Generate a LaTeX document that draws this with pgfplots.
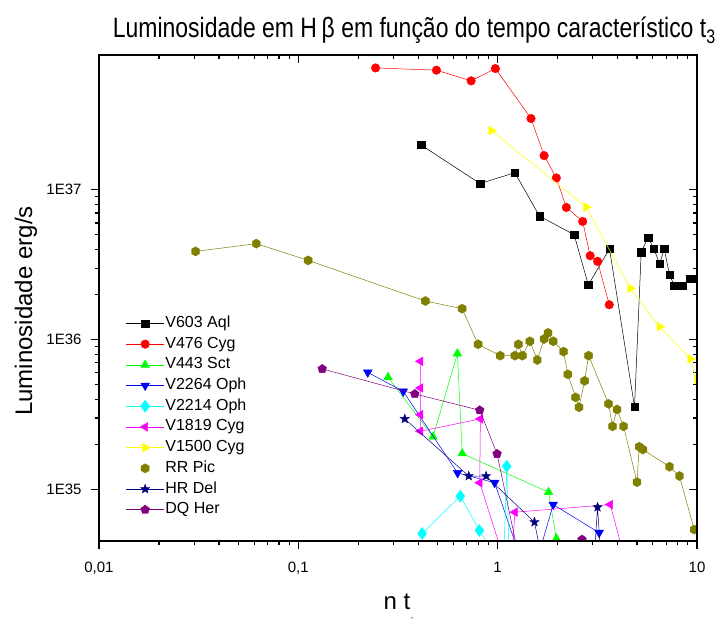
\documentclass[border=0pt]{standalone}
\usepackage{pgfplots}
\pgfplotsset{compat=1.18}
\usepackage{pgfplotstable}
\usepackage{fontspec}
\setmainfont{Liberation Sans}
\newfontfamily\narrowfont[FakeStretch=0.82]{Liberation Sans}
\usetikzlibrary{plotmarks}

% filled hexagon and filled five-pointed star marks
\pgfdeclareplotmark{hexagon*}{%
  \pgfpathmoveto{\pgfpointpolar{90}{\pgfplotmarksize}}%
  \pgfpathlineto{\pgfpointpolar{150}{\pgfplotmarksize}}%
  \pgfpathlineto{\pgfpointpolar{210}{\pgfplotmarksize}}%
  \pgfpathlineto{\pgfpointpolar{270}{\pgfplotmarksize}}%
  \pgfpathlineto{\pgfpointpolar{330}{\pgfplotmarksize}}%
  \pgfpathlineto{\pgfpointpolar{30}{\pgfplotmarksize}}%
  \pgfpathclose\pgfusepathqfillstroke}
\pgfdeclareplotmark{fstar}{%
  \pgfpathmoveto{\pgfpointpolar{90}{\pgfplotmarksize}}%
  \pgfpathlineto{\pgfpointpolar{126}{0.42\pgfplotmarksize}}%
  \pgfpathlineto{\pgfpointpolar{162}{\pgfplotmarksize}}%
  \pgfpathlineto{\pgfpointpolar{198}{0.42\pgfplotmarksize}}%
  \pgfpathlineto{\pgfpointpolar{234}{\pgfplotmarksize}}%
  \pgfpathlineto{\pgfpointpolar{270}{0.42\pgfplotmarksize}}%
  \pgfpathlineto{\pgfpointpolar{306}{\pgfplotmarksize}}%
  \pgfpathlineto{\pgfpointpolar{342}{0.42\pgfplotmarksize}}%
  \pgfpathlineto{\pgfpointpolar{18}{\pgfplotmarksize}}%
  \pgfpathlineto{\pgfpointpolar{54}{0.42\pgfplotmarksize}}%
  \pgfpathclose\pgfusepathqfillstroke}

\pgfplotsset{
  lumlinekey/.style={legend image code/.code={\draw[mark repeat=2,mark phase=2,##1]
     plot coordinates {(0bp,0bp)(19bp,0bp)(38bp,0bp)};}},
  lummarkkey/.style={legend image code/.code={\draw[##1]
     plot coordinates {(19bp,0bp)};}},
}

\definecolor{cBlack}{RGB}{0,0,0}
\definecolor{cRed}{RGB}{255,0,0}
\definecolor{cGreen}{RGB}{0,255,0}
\definecolor{cBlue}{RGB}{0,0,255}
\definecolor{cCyan}{RGB}{0,255,255}
\definecolor{cMagenta}{RGB}{255,0,255}
\definecolor{cYellow}{RGB}{255,255,0}
\definecolor{cOlive}{RGB}{128,128,0}
\definecolor{cNavy}{RGB}{0,0,128}
\definecolor{cPurple}{RGB}{128,0,128}

% n t  versus  L(H beta) [erg/s]
\pgfplotstableread{
x y
0.413 1.99e37
0.816 1.10e37
1.22 1.30e37
1.62 6.68e36
2.42 5.01e36
2.85 2.32e36
3.64 4.03e36
4.86 3.56e35
5.25 3.84e36
5.69 4.81e36
6.08 4.03e36
6.49 3.21e36
6.85 4.03e36
7.28 2.71e36
7.69 2.30e36
8.50 2.30e36
9.25 2.54e36
9.91 2.54e36
}\vAql

\pgfplotstableread{
x y
0.244 6.50e37
0.493 6.28e37
0.736 5.33e37
0.974 6.44e37
1.47 2.99e37
1.71 1.69e37
1.97 1.20e37
2.21 7.62e36
2.67 6.15e36
2.91 3.63e36
3.17 3.33e36
3.63 1.71e36
}\vCygA

\pgfplotstableread{
x y
0.282 5.61e35
0.474 2.25e35
0.628 8.07e35
0.664 1.74e35
1.80 9.60e34
1.97 4.71e34
}\vSct

\pgfplotstableread{
x y
0.223 6.05e35
0.336 4.52e35
0.630 1.29e35
0.966 1.11e35
1.45 2.30e34
1.90 7.94e34
3.23 5.15e34
}\vOphA

\pgfplotstableread{
x y
0.418 5.09e34
0.650 9.03e34
0.810 5.33e34
1.07 3.00e34
1.11 1.43e35
1.15 2.50e34
}\vOphB

\pgfplotstableread{
x y
0.410 7.17e35
0.410 4.76e35
0.410 3.16e35
0.410 2.45e35
0.819 2.96e35
0.813 1.11e35
1.16 2.50e34
1.22 7.06e34
3.67 7.94e34
4.63 2.50e34
}\vCygB

\pgfplotstableread{
x y
0.930 2.48e37
2.78 7.67e36
4.63 2.20e36
6.49 1.22e36
9.25 7.44e35
10.0 5.41e35
}\vCygC

\pgfplotstableread{
x y
0.0305 3.88e36
0.0615 4.37e36
0.112 3.38e36
0.434 1.81e36
0.663 1.61e36
0.798 9.31e35
1.03 7.82e35
1.22 7.82e35
1.27 9.31e35
1.33 7.82e35
1.45 9.75e35
1.58 7.32e35
1.71 1.01e36
1.79 1.11e36
1.90 9.75e35
2.14 8.32e35
2.25 5.87e35
2.46 4.12e35
2.56 3.54e35
2.73 5.31e35
2.86 7.82e35
3.60 3.73e35
3.77 2.64e35
3.97 3.42e35
4.28 2.64e35
5.00 1.12e35
5.13 1.93e35
5.35 1.85e35
7.28 1.42e35
8.17 1.23e35
9.68 5.41e34
}\rrPic

\pgfplotstableread{
x y
0.342 2.96e35
0.716 1.23e35
0.875 1.23e35
1.53 6.06e34
1.75 2.50e34
3.00 2.50e34
3.17 7.62e34
3.35 2.50e34
}\hrDel

\pgfplotstableread{
x y
0.1318 6.38e35
0.384 4.34e35
0.813 3.38e35
0.993 1.73e35
1.35 2.50e34
2.37 4.40e34
2.65 4.64e34
}\dqHer

\begin{document}
\begin{tikzpicture}
\useasboundingbox (0,0) rectangle (720bp,624bp);

% ticks pointing inwards on the top and right sides
\begin{loglogaxis}[
  scale only axis, width=598bp, height=486bp,
  at={(99bp,83bp)}, anchor=south west,
  xmin=0.01, xmax=10, ymin=4.54e34, ymax=7.94e37,
  xtick={0.01,0.1,1,10}, ytick={1e35,1e36,1e37},
  axis line style={line width=1.6bp},
  major tick style={line width=1.3bp, black},
  minor tick style={line width=1.1bp, black},
  major tick length=8bp, minor tick length=4.5bp,
  xtick pos=right, ytick pos=right, tick align=inside,
  xticklabels={}, yticklabels={}]
\addplot[draw=none, forget plot] coordinates {(1,1e36)};
\end{loglogaxis}

\begin{loglogaxis}[
  scale only axis, width=598bp, height=486bp,
  at={(99bp,83bp)}, anchor=south west,
  xmin=0.01, xmax=10, ymin=4.54e34, ymax=7.94e37,
  xtick={0.01,0.1,1,10}, ytick={1e35,1e36,1e37},
  axis line style={line width=1.6bp},
  major tick style={line width=1.3bp, black},
  minor tick style={line width=1.1bp, black},
  major tick length=8bp, minor tick length=4.5bp,
  xtick pos=left, ytick pos=left, tick align=outside,
  axis on top,
  xticklabels={{0,01},{0,1},1,10},
  yticklabels={1E35,1E36,1E37},
  ticklabel style={font=\fontsize{15bp}{15bp}\selectfont},
  xticklabel style={yshift=-10bp},
  yticklabel style={xshift=-6bp},
  clip marker paths=true,
  every axis plot/.append style={line width=0.5bp, mark size=4.3bp,
     mark options={solid, line width=0.4bp}},
  legend style={draw=none, fill=none, at={(0.045,0.465)}, anchor=north west,
     inner sep=0pt, outer sep=0pt, row sep=3.7bp,
     font=\fontsize{16bp}{16bp}\selectfont,
     nodes={inner sep=1bp, text height=11.5bp, text depth=3.5bp}},
  legend cell align=left,
  lumlinekey,
]
\addplot[cOlive, forget plot, no marks, line width=0.5bp] table {\rrPic};

\addplot[cBlack, mark=square*, mark size=3.7bp] table {\vAql};
\addlegendentry{V603 Aql}
\addplot[cRed, mark=*] table {\vCygA};
\addlegendentry{V476 Cyg}
\addplot[cGreen, mark=triangle*, mark size=5bp] table {\vSct};
\addlegendentry{V443 Sct}
\addplot[cBlue, mark=triangle*, mark size=5bp,
  mark options={rotate=180}] table {\vOphA};
\addlegendentry{V2264 Oph}
\addplot[cCyan, mark=diamond*, mark size=6bp] table {\vOphB};
\addlegendentry{V2214 Oph}
\addplot[cMagenta, mark=triangle*, mark size=5bp,
  mark options={rotate=90}] table {\vCygB};
\addlegendentry{V1819 Cyg}
\addplot[cYellow, mark=triangle*, mark size=5bp,
  mark options={rotate=-90}] table {\vCygC};
\addlegendentry{V1500 Cyg}
\addplot[cOlive, only marks, mark=hexagon*, mark size=4.6bp, lummarkkey]
  table {\rrPic};
\addlegendentry{RR Pic}
\addplot[cNavy, mark=fstar, mark size=4.8bp] table {\hrDel};
\addlegendentry{HR Del}
\addplot[cPurple, mark=pentagon*, mark size=4.6bp] table {\dqHer};
\addlegendentry{DQ Her}
\end{loglogaxis}

\node[anchor=base east, inner sep=0pt, font=\narrowfont\fontsize{28bp}{28bp}\selectfont]
  at (716bp,586bp) {Luminosidade em H\,β em função do tempo característico t\textsubscript{3}};
\node[rotate=90, anchor=center, font=\fontsize{24bp}{24bp}\selectfont]
  at (26bp,313bp) {Luminosidade erg/s};
\node[anchor=base, font=\fontsize{24bp}{24bp}\selectfont]
  at (397bp,15bp) {n t};
\node[anchor=center, font=\fontsize{8bp}{8bp}\selectfont]
  at (412bp,5bp) {-};
\end{tikzpicture}
\end{document}
